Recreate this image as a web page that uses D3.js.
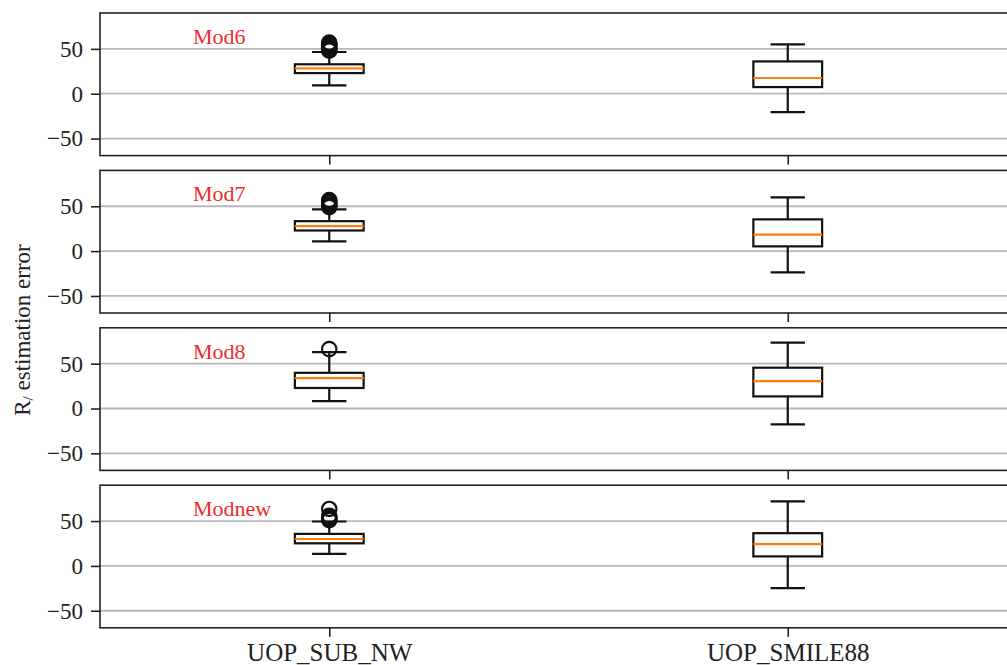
<!DOCTYPE html>
<html>
<head>
<meta charset="utf-8">
<script src="https://cdn.jsdelivr.net/npm/d3@7"></script>
<style>
  html, body { margin: 0; padding: 0; background: #fff; }
  svg { display: block; }
  text { font-family: "Liberation Serif", "DejaVu Serif", serif; }
</style>
</head>
<body>
<svg id="chart" width="1007" height="665"></svg>
<script>
// ---- data ----
const panels = ["Mod6", "Mod7", "Mod8", "Modnew"];
const categories = ["UOP_SUB_NW", "UOP_SMILE88"];
const whiskerLow  = [[9.3, -20.5], [10.9, -23.6], [8.3, -17.7], [13.5, -24.8]];
const q1          = [[23.0, 7.4],  [23.0, 5.3],   [22.9, 13.5], [25.2, 10.6]];
const medians     = [[28.3, 17.5], [27.8, 18.5],  [33.9, 30.5], [30.0, 24.4]];
const q3          = [[32.8, 36.0], [33.4, 35.4],  [39.8, 45.5], [35.7, 36.5]];
const whiskerHigh = [[46.5, 55.0], [46.6, 60.0],  [62.9, 73.4], [49.5, 72.0]];
const outliers = [
  [[48, 49.5, 51, 53, 54.5, 56, 57], []],
  [[49, 50.5, 52, 54, 55.5, 57], []],
  [[66.2], []],
  [[51, 52, 53, 54.5, 56, 63.5], []]
];
const yTicks = [-50, 0, 50];
const yDomain = [-69, 90];
const yLabel = "estimation error";

// ---- layout ----
const svg = d3.select("#chart");
const W = 1007, H = 665;
svg.append("rect").attr("width", W).attr("height", H).attr("fill", "#fff");

const left = 100, right = 1017;
const panelTop0 = 13, panelStep = 157.4, panelH = 142.6;
const x = d3.scaleLinear().domain([0.5, 2.5]).range([left, right]);
const boxW = 0.15;

panels.forEach((name, p) => {
  const top = panelTop0 + p * panelStep;
  const y = d3.scaleLinear().domain(yDomain).range([top + panelH, top]);
  const g = svg.append("g");

  // grid
  g.selectAll(".grid").data(yTicks).join("line")
    .attr("x1", left).attr("x2", right)
    .attr("y1", d => y(d)).attr("y2", d => y(d))
    .attr("stroke", "#b8b8b8").attr("stroke-width", 1.8);

  // y axis
  const yAxis = d3.axisLeft(y).tickValues(yTicks).tickSize(9).tickPadding(8)
    .tickFormat(d => d < 0 ? "\u2212" + Math.abs(d) : String(d));
  const ya = g.append("g").attr("transform", `translate(${left},0)`).call(yAxis);
  ya.select(".domain").remove();
  ya.selectAll(".tick line").attr("stroke", "#222").attr("stroke-width", 1.6);
  ya.selectAll(".tick text").attr("font-size", 23).attr("fill", "#222")
    .attr("font-family", "Liberation Serif, serif");

  // x axis ticks
  const xAxis = d3.axisBottom(x).tickValues([1, 2]).tickSize(9).tickPadding(6)
    .tickFormat((d, i) => p === panels.length - 1 ? categories[i] : "");
  const xa = g.append("g").attr("transform", `translate(0,${top + panelH})`).call(xAxis);
  xa.select(".domain").remove();
  xa.selectAll(".tick line").attr("stroke", "#222").attr("stroke-width", 1.6);
  xa.selectAll(".tick text").attr("font-size", 25).attr("fill", "#222")
    .attr("font-family", "Liberation Serif, serif");

  // boxes
  categories.forEach((c, i) => {
    const cx = x(i + 1);
    const bx0 = x(i + 1 - boxW / 2), bx1 = x(i + 1 + boxW / 2);
    const cx0 = x(i + 1 - boxW / 4), cx1 = x(i + 1 + boxW / 4);
    const stroke = "#111", sw = 2.2;
    // whiskers
    g.append("line").attr("x1", cx).attr("x2", cx)
      .attr("y1", y(q3[p][i])).attr("y2", y(whiskerHigh[p][i]))
      .attr("stroke", stroke).attr("stroke-width", sw);
    g.append("line").attr("x1", cx).attr("x2", cx)
      .attr("y1", y(q1[p][i])).attr("y2", y(whiskerLow[p][i]))
      .attr("stroke", stroke).attr("stroke-width", sw);
    // caps
    [whiskerHigh[p][i], whiskerLow[p][i]].forEach(v => {
      g.append("line").attr("x1", cx0).attr("x2", cx1)
        .attr("y1", y(v)).attr("y2", y(v))
        .attr("stroke", stroke).attr("stroke-width", sw);
    });
    // box
    g.append("rect").attr("x", bx0).attr("width", bx1 - bx0)
      .attr("y", y(q3[p][i])).attr("height", y(q1[p][i]) - y(q3[p][i]))
      .attr("fill", "none").attr("stroke", stroke).attr("stroke-width", sw);
    // median
    g.append("line").attr("x1", bx0).attr("x2", bx1)
      .attr("y1", y(medians[p][i])).attr("y2", y(medians[p][i]))
      .attr("stroke", "#ff7f0e").attr("stroke-width", 2.2);
    // outliers
    g.selectAll(null).data(outliers[p][i]).join("circle")
      .attr("cx", cx).attr("cy", d => y(d)).attr("r", 7.2)
      .attr("fill", "none").attr("stroke", stroke).attr("stroke-width", 2.2);
  });

  // spines
  g.append("rect").attr("x", left).attr("y", top)
    .attr("width", right - left).attr("height", panelH)
    .attr("fill", "none").attr("stroke", "#222").attr("stroke-width", 1.6);

  // panel label
  g.append("text").attr("x", 193).attr("y", top + 31)
    .attr("font-size", 22).attr("fill", "#ee2b2b").text(name);
});

// y label
const yl = svg.append("text")
  .attr("transform", "translate(30,330) rotate(-90)")
  .attr("text-anchor", "middle")
  .attr("font-size", 23).attr("fill", "#222");
yl.append("tspan").text("R");
yl.append("tspan").attr("font-size", 15).attr("dy", 3).text("/");
yl.append("tspan").attr("dy", -3).text(" " + yLabel);
</script>
</body>
</html>
